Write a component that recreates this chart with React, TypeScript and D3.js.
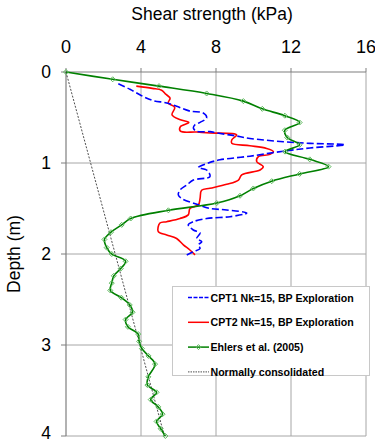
import React from 'react'
import * as d3 from 'd3'

// shear strength (kPa) vs depth (m)
const cpt1: [number, number][] = [
    [2.79, 0.13], [3.41, 0.19], [4.12, 0.27], [4.66, 0.315], [5.37, 0.34],
    [5.9, 0.377], [6.61, 0.43], [7.32, 0.45], [7.5, 0.505], [7.15, 0.553],
    [6.88, 0.58], [6.79, 0.615], [6.97, 0.652], [7.68, 0.655], [8.04, 0.67],
    [9.0, 0.7], [9.81, 0.73], [11.59, 0.766], [13.01, 0.784], [14.88, 0.8],
    [13.01, 0.835], [11.59, 0.87], [9.81, 0.925], [8.21, 0.965], [7.59, 1.0],
    [7.06, 1.05], [7.5, 1.077], [7.68, 1.15], [6.79, 1.187], [6.44, 1.242],
    [6.08, 1.297], [5.99, 1.35], [6.17, 1.39], [7.06, 1.46], [7.68, 1.5],
    [8.57, 1.516], [9.64, 1.55], [8.75, 1.59], [7.5, 1.61], [6.79, 1.645],
    [6.52, 1.68], [6.79, 1.736], [7.15, 1.77], [6.97, 1.83], [7.24, 1.865],
    [7.06, 1.9], [7.15, 1.94], [6.79, 1.975], [6.44, 2.01],
]

const cpt2: [number, number][] = [
    [3.75, 0.155], [4.6, 0.18], [5.1, 0.2], [5.3, 0.24], [5.55, 0.29],
    [5.45, 0.34], [5.8, 0.39], [5.65, 0.47], [6.1, 0.525], [6.55, 0.555],
    [6.1, 0.6], [6.1, 0.65], [6.97, 0.66], [7.68, 0.67], [9.1, 0.69],
    [8.84, 0.747], [8.84, 0.784], [9.81, 0.81], [10.7, 0.84], [11.06, 0.875],
    [10.88, 0.905], [10.26, 0.93], [10.17, 0.985], [10.52, 1.04], [10.35, 1.077],
    [9.37, 1.13], [9.2, 1.187], [8.57, 1.234], [7.68, 1.278], [7.23, 1.3],
    [7.15, 1.39], [7.06, 1.46], [6.61, 1.5], [6.52, 1.57], [6.08, 1.61],
    [5.37, 1.645], [5.01, 1.66], [4.92, 1.755], [5.37, 1.79], [5.9, 1.83],
    [6.26, 1.9], [6.61, 1.956], [6.88, 2.01],
]

const ehlers: [number, number][] = [
    [0, 0], [2.49, 0.08], [4.96, 0.155], [7.5, 0.236], [9.46, 0.32],
    [10.47, 0.405], [11.67, 0.48], [12.46, 0.555], [11.67, 0.64], [11.8, 0.72],
    [12.46, 0.8], [11.68, 0.875], [13.0, 0.96], [14.0, 1.04], [12.46, 1.12],
    [10.97, 1.2], [9.99, 1.28], [9.28, 1.36], [8.04, 1.44], [5.46, 1.52],
    [3.45, 1.61], [2.97, 1.68], [2.4, 1.76], [2.05, 1.84], [2.17, 1.93],
    [2.44, 2.0], [3.18, 2.08], [2.92, 2.16], [2.55, 2.24], [2.44, 2.32],
    [2.36, 2.4], [2.95, 2.48], [3.4, 2.56], [3.55, 2.64], [3.18, 2.72],
    [3.3, 2.8], [3.85, 2.88], [3.9, 2.96], [4.05, 3.04], [4.4, 3.12],
    [4.75, 3.21], [4.39, 3.35], [4.34, 3.44], [4.83, 3.52], [4.52, 3.6],
    [4.92, 3.68], [5.15, 3.76], [4.83, 3.84], [5.05, 3.92], [5.3, 4.0],
]

const normallyConsolidated: [number, number][] = [[0, 0], [5.25, 4]]

const xTicks = [0, 4, 8, 12, 16]
const yTicks = [0, 1, 2, 3, 4]

const legendItems = [
    { label: 'CPT1 Nk=15, BP Exploration', color: '#0000ff', dash: '4,1.5', width: 1.5, marker: false },
    { label: 'CPT2 Nk=15, BP Exploration', color: '#ff0000', dash: null, width: 1.5, marker: false },
    { label: 'Ehlers et al. (2005)', color: '#008000', dash: null, width: 1.5, marker: true },
    { label: 'Normally consolidated', color: '#000000', dash: '1.5,1', width: 0.7, marker: false },
]

const font = 'Arial, "Liberation Sans", sans-serif'

const App: React.FC = () => {
    const x = d3.scaleLinear().domain([0, 16]).range([66, 366])
    const y = d3.scaleLinear().domain([0, 4]).range([72, 436])

    const line = d3
        .line<[number, number]>()
        .x((d) => x(d[0]))
        .y((d) => y(d[1]))
        .curve(d3.curveCatmullRom.alpha(0.5))

    const straight = d3
        .line<[number, number]>()
        .x((d) => x(d[0]))
        .y((d) => y(d[1]))

    const diamond = (cx: number, cy: number, r: number) =>
        `M${cx},${cy - r}L${cx + r},${cy}L${cx},${cy + r}L${cx - r},${cy}Z`

    return (
        <svg
            width={375}
            height={444}
            style={{ position: 'absolute', left: 0, top: 0, background: '#fff' }}
        >
            {/* grid */}
            {xTicks.slice(1).map((t) => (
                <line key={'gx' + t} x1={x(t)} x2={x(t)} y1={y(0)} y2={y(4)} stroke="#a6a6a6" strokeWidth={1} />
            ))}
            {yTicks.slice(1).map((t) => (
                <line key={'gy' + t} x1={x(0)} x2={x(16)} y1={y(t)} y2={y(t)} stroke="#a6a6a6" strokeWidth={1} />
            ))}

            {/* axes */}
            <line x1={x(0)} x2={x(16)} y1={y(0)} y2={y(0)} stroke="#7f7f7f" strokeWidth={1.2} />
            <line x1={x(0)} x2={x(0)} y1={y(0)} y2={y(4)} stroke="#7f7f7f" strokeWidth={1.2} />
            {xTicks.map((t) => (
                <g key={'tx' + t}>
                    <line x1={x(t)} x2={x(t)} y1={y(0) - 4} y2={y(0)} stroke="#7f7f7f" />
                    <text x={x(t)} y={y(0) - 19} textAnchor="middle" fontSize={18} fontFamily={font} fill="#000">
                        {t}
                    </text>
                </g>
            ))}
            {yTicks.map((t) => (
                <g key={'ty' + t}>
                    <line x1={x(0) - 5} x2={x(0)} y1={y(t)} y2={y(t)} stroke="#7f7f7f" />
                    <text x={x(0) - 15} y={Math.min(y(t) + 6, 439)} textAnchor="end" fontSize={17.5} fontFamily={font} fill="#000">
                        {t}
                    </text>
                </g>
            ))}
            <text x={212} y={20} textAnchor="middle" fontSize={17.5} fontFamily={font} fill="#000">
                Shear strength (kPa)
            </text>
            <text
                transform={`translate(20, ${y(2)}) rotate(-90)`}
                textAnchor="middle"
                fontSize={17.5}
                fontFamily={font}
                fill="#000"
            >
                Depth (m)
            </text>

            {/* series */}
            <path d={straight(normallyConsolidated) ?? ''} fill="none" stroke="#000" strokeWidth={0.7} strokeDasharray="2,1.5" />
            <path d={line(cpt2) ?? ''} fill="none" stroke="#ff0000" strokeWidth={1.6} />
            <path d={line(cpt1) ?? ''} fill="none" stroke="#0000ff" strokeWidth={1.6} strokeDasharray="7,3" />
            <path d={line(ehlers) ?? ''} fill="none" stroke="#008000" strokeWidth={1.6} />
            {ehlers.map((d, i) => (
                <path key={'m' + i} d={diamond(x(d[0]), y(d[1]), 2.5)} fill="none" stroke="#5cb85c" strokeWidth={1} />
            ))}

            {/* legend */}
            <rect x={172.5} y={286.5} width={197} height={89} fill="#fff" stroke="#c8c8c8" strokeWidth={1} />
            {legendItems.map((item, i) => {
                const ly = 297.5 + i * 24.8
                return (
                    <g key={item.label}>
                        <line
                            x1={188}
                            x2={209}
                            y1={ly}
                            y2={ly}
                            stroke={item.color}
                            strokeWidth={item.width}
                            strokeDasharray={item.dash ?? undefined}
                        />
                        {item.marker && (
                            <path d={diamond(198.5, ly, 2.5)} fill="none" stroke="#5cb85c" strokeWidth={1} />
                        )}
                        <text x={210.5} y={ly + 4} fontSize={10.6} fontWeight="bold" fontFamily={font} fill="#000">
                            {item.label}
                        </text>
                    </g>
                )
            })}
        </svg>
    )
}

export default App
